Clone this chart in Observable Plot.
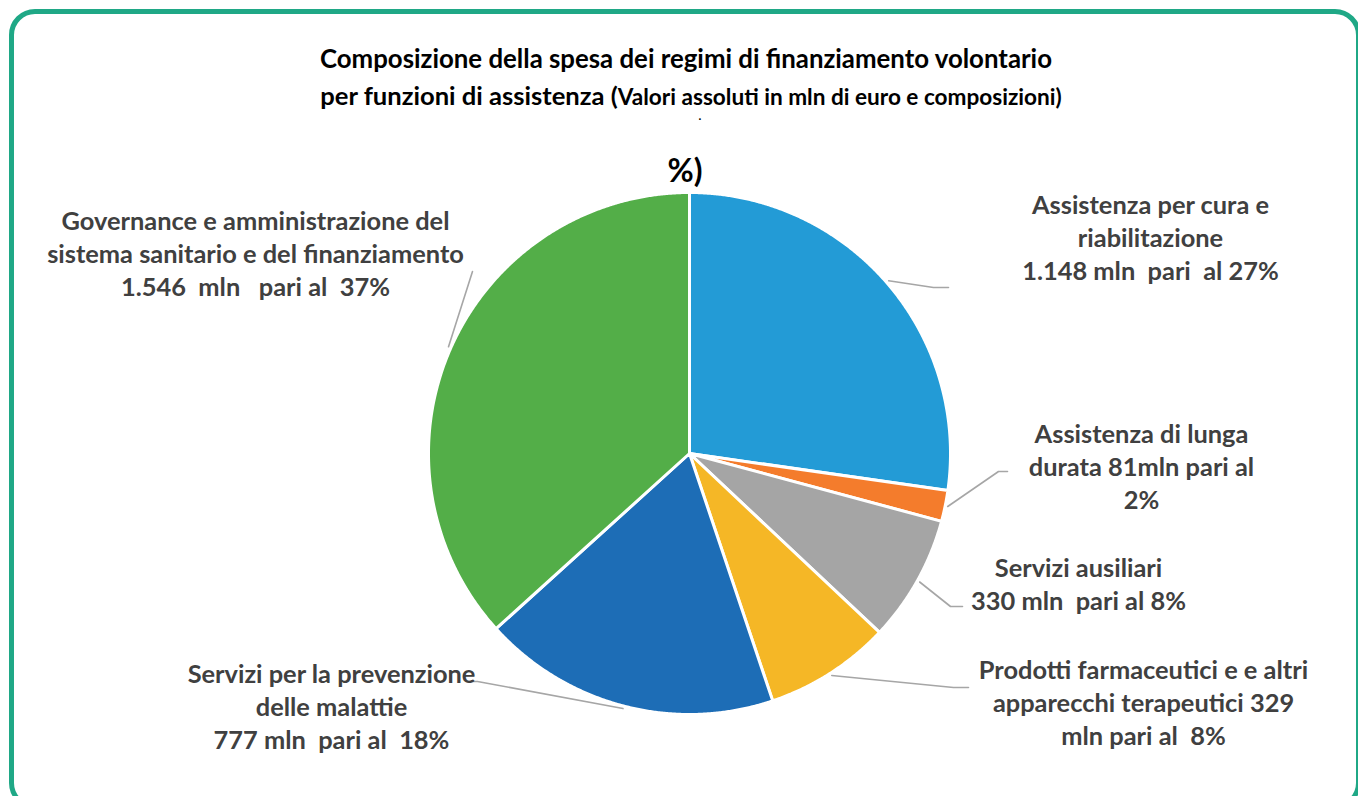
<!DOCTYPE html>
<html>
<head>
<meta charset="utf-8">
<script src="https://cdn.jsdelivr.net/npm/d3@7"></script>
<script src="https://cdn.jsdelivr.net/npm/@observablehq/plot@0.6"></script>
<style>
  html, body { margin: 0; padding: 0; width: 1358px; height: 796px; overflow: hidden; background: #fff; }
  #frame { position: absolute; left: 9px; top: 9px; width: 1352px; height: 800px; box-sizing: border-box;
           border: 5.5px solid #1FA886; border-radius: 26px; }
  #chart { position: absolute; left: 0; top: 0; }
  .t { position: absolute; left: 0; width: 1372px; text-align: center; font-family: Lato, sans-serif; font-weight: 700; color: #000; white-space: nowrap; }
</style>
</head>
<body>
<div id="frame"></div>
<div id="chart"></div>
<div class="t" style="top:43px;font-size:25.8px;line-height:30px;">Composizione della spesa dei regimi di finanziamento volontario</div>
<div class="t" style="top:80px;font-size:25.6px;line-height:30px;left:5px;">per funzioni di assistenza (<span style="font-size:22.6px">Valori assoluti in mln di euro e composizioni)</span></div>
<div class="t" style="top:111px;font-size:12px;line-height:9px;height:9px;left:14px;">.</div>
<div class="t" style="top:152px;font-size:32px;line-height:36px;left:-1px;">%)</div>
<script>
// ---- data ----
const categories = [
  "Assistenza per cura e riabilitazione",
  "Assistenza di lunga durata",
  "Servizi ausiliari",
  "Prodotti farmaceutici e e altri apparecchi terapeutici",
  "Servizi per la prevenzione delle malattie",
  "Governance e amministrazione del sistema sanitario e del finanziamento"
];
const values = [1148, 81, 330, 329, 777, 1546];
const percents = [27, 2, 8, 8, 18, 37];
const labelTexts = [
  "Assistenza per cura e\nriabilitazione\n1.148 mln  pari  al 27%",
  "Assistenza di lunga\ndurata 81mln pari al\n2%",
  "Servizi ausiliari\n330 mln  pari al 8%",
  "Prodotti farmaceutici e e altri\napparecchi terapeutici 329\nmln pari al  8%",
  "Servizi per la prevenzione\ndelle malattie\n777 mln  pari al  18%",
  "Governance e amministrazione del\nsistema sanitario e del finanziamento\n1.546  mln   pari al  37%"
];
const colors = ["#239BD6", "#F47C2C", "#A5A5A5", "#F5B726", "#1D6DB6", "#53AE48"];

// ---- layout (radius units, pie centre = 0,0, y downward) ----
const R = 261, CX = 689, CY = 453, W = 1358, H = 796;
const u = (px, c) => (px - c) / R;
const layout = [
  {elbow: [933, 287], end: [948, 287], label: [1150, 236]},
  {elbow: [998, 471], end: [1007, 471], label: [1141, 465]},
  {elbow: [950, 606], end: [962, 606], label: [1078, 582]},
  {elbow: [953, 687], end: [968, 687], label: [1143, 701]},
  {elbow: [477, 681], end: [467, 681], label: [331, 705]},
  {elbow: null, end: [472, 271], label: [255, 252]}
];

const total = d3.sum(values);
const pie = d3.pie().sort(null).value(d => d)(values);

const slicePts = [];
pie.forEach((p, i) => {
  slicePts.push({k: i, x: 0, y: 0, c: colors[i]});
  const n = Math.max(4, Math.ceil((p.endAngle - p.startAngle) / 0.005));
  for (let j = 0; j <= n; j++) {
    const a = p.startAngle + (p.endAngle - p.startAngle) * j / n;
    slicePts.push({k: i, x: Math.sin(a), y: -Math.cos(a), c: colors[i]});
  }
  slicePts.push({k: i, x: 0, y: 0, c: colors[i]});
});

const leaderPts = [];
pie.forEach((p, i) => {
  const m = (p.startAngle + p.endAngle) / 2;
  const L = layout[i];
  leaderPts.push({k: i, x: 1.01 * Math.sin(m), y: -1.01 * Math.cos(m)});
  if (L.elbow) leaderPts.push({k: i, x: u(L.elbow[0], CX), y: u(L.elbow[1], CY)});
  leaderPts.push({k: i, x: u(L.end[0], CX), y: u(L.end[1], CY)});
});

const labels = labelTexts.map((t, i) => ({t, x: u(layout[i].label[0], CX), y: u(layout[i].label[1], CY)}));

const chart = Plot.plot({
  width: W, height: H, margin: 0,
  x: {domain: [u(0, CX), u(W, CX)], range: [0, W], axis: null},
  y: {domain: [u(0, CY), u(H, CY)], range: [0, H], axis: null},
  color: {type: "identity"},
  style: {background: "transparent"},
  marks: [
    Plot.line(slicePts, {x: "x", y: "y", z: "k", fill: "c", stroke: "white", strokeWidth: 3, strokeLinejoin: "round", curve: "linear"}),
    Plot.line(leaderPts, {x: "x", y: "y", z: "k", stroke: "#A6A6A6", strokeWidth: 1.6}),
    Plot.text(labels, {x: "x", y: "y", text: "t", fill: "#404040", fontSize: 25.4, fontWeight: 700,
      fontFamily: "Lato, sans-serif", lineHeight: 1.3, textAnchor: "middle", lineAnchor: "middle"})
  ]
});
document.getElementById("chart").appendChild(chart);
</script>
</body>
</html>
